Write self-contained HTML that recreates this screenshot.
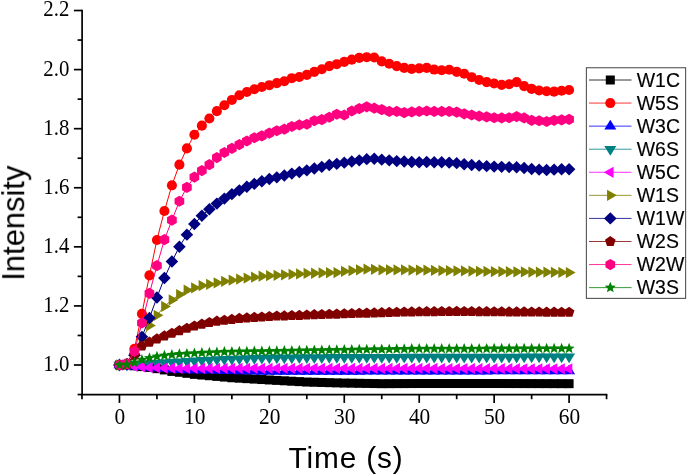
<!DOCTYPE html>
<html><head><meta charset="utf-8"><title>chart</title>
<style>
html,body{margin:0;padding:0;background:#fff;}
body{width:688px;height:476px;overflow:hidden;font-family:"Liberation Sans",sans-serif;}
svg{display:block;}
.tk{font-family:"Liberation Serif",serif;font-size:22.5px;fill:#000;}
.ti{font-family:"Liberation Sans",sans-serif;font-size:29.8px;fill:#000;}
.lg{font-family:"Liberation Sans",sans-serif;font-size:20.4px;fill:#000;stroke:#000;stroke-width:0.15px;}
</style></head><body>
<svg width="688" height="476" viewBox="0 0 688 476">
<rect width="688" height="476" fill="#fff"/>
<defs>
<g id="m_sq" fill="#000000"><rect x="-4.5" y="-4.5" width="9" height="9"/></g>
<g id="m_ci" fill="#FF0000"><circle r="5.05"/></g>
<g id="m_up" fill="#0000FF"><polygon points="0,-6.5 6,3.25 -6,3.25"/></g>
<g id="m_dn" fill="#008080"><polygon points="0,6.5 6,-3.25 -6,-3.25"/></g>
<g id="m_lt" fill="#FF00FF"><polygon points="-6.5,0 3.25,-5.63 3.25,5.63"/></g>
<g id="m_rt" fill="#808000"><polygon points="6.5,0 -3.25,-5.63 -3.25,5.63"/></g>
<g id="m_di" fill="#000080"><polygon points="0,-6.2 6.3,0 0,6.2 -6.3,0"/></g>
<g id="m_pe" fill="#800000"><polygon points="0,-5.6 5.33,-1.73 3.29,4.53 -3.29,4.53 -5.33,-1.73"/></g>
<g id="m_he" fill="#FF0080"><polygon points="0,-5.6 4.85,-2.8 4.85,2.8 0,5.6 -4.85,2.8 -4.85,-2.8"/></g>
<g id="m_st" fill="#008000"><polygon points="0,-5.8 1.5,-2.06 5.52,-1.79 2.43,0.79 3.41,4.69 0,2.55 -3.41,4.69 -2.43,0.79 -5.52,-1.79 -1.5,-2.06"/></g>
</defs>
<g>
<polyline fill="none" stroke="#000000" stroke-width="1" points="119.45,365 126.94,365 134.44,365.8 141.93,366.61 149.43,367.42 156.92,368.68 164.41,369.93 171.91,371.41 179.4,372.29 186.9,373.33 194.39,374.36 201.88,375.04 209.38,375.72 216.87,376.4 224.37,377.08 231.86,377.76 239.35,378.2 246.85,378.65 254.34,379.09 261.84,379.53 269.33,379.97 276.82,380.39 284.32,380.8 291.81,381.22 299.31,381.63 306.8,382.04 314.29,382.25 321.79,382.46 329.28,382.66 336.78,382.87 344.27,383.08 351.76,383.19 359.26,383.31 366.75,383.43 374.25,383.55 381.74,383.67 389.23,383.64 396.73,383.61 404.22,383.58 411.72,383.55 419.21,383.52 426.7,383.52 434.2,383.52 441.69,383.52 449.19,383.52 456.68,383.52 464.17,383.52 471.67,383.52 479.16,383.52 486.66,383.52 494.15,383.52 501.64,383.53 509.14,383.55 516.63,383.56 524.13,383.58 531.62,383.59 539.11,383.61 546.61,383.62 554.1,383.64 561.6,383.65 569.09,383.67"/>
<use href="#m_sq" x="119.45" y="365"/>
<use href="#m_sq" x="126.94" y="365"/>
<use href="#m_sq" x="134.44" y="365.8"/>
<use href="#m_sq" x="141.93" y="366.61"/>
<use href="#m_sq" x="149.43" y="367.42"/>
<use href="#m_sq" x="156.92" y="368.68"/>
<use href="#m_sq" x="164.41" y="369.93"/>
<use href="#m_sq" x="171.91" y="371.41"/>
<use href="#m_sq" x="179.4" y="372.29"/>
<use href="#m_sq" x="186.9" y="373.33"/>
<use href="#m_sq" x="194.39" y="374.36"/>
<use href="#m_sq" x="201.88" y="375.04"/>
<use href="#m_sq" x="209.38" y="375.72"/>
<use href="#m_sq" x="216.87" y="376.4"/>
<use href="#m_sq" x="224.37" y="377.08"/>
<use href="#m_sq" x="231.86" y="377.76"/>
<use href="#m_sq" x="239.35" y="378.2"/>
<use href="#m_sq" x="246.85" y="378.65"/>
<use href="#m_sq" x="254.34" y="379.09"/>
<use href="#m_sq" x="261.84" y="379.53"/>
<use href="#m_sq" x="269.33" y="379.97"/>
<use href="#m_sq" x="276.82" y="380.39"/>
<use href="#m_sq" x="284.32" y="380.8"/>
<use href="#m_sq" x="291.81" y="381.22"/>
<use href="#m_sq" x="299.31" y="381.63"/>
<use href="#m_sq" x="306.8" y="382.04"/>
<use href="#m_sq" x="314.29" y="382.25"/>
<use href="#m_sq" x="321.79" y="382.46"/>
<use href="#m_sq" x="329.28" y="382.66"/>
<use href="#m_sq" x="336.78" y="382.87"/>
<use href="#m_sq" x="344.27" y="383.08"/>
<use href="#m_sq" x="351.76" y="383.19"/>
<use href="#m_sq" x="359.26" y="383.31"/>
<use href="#m_sq" x="366.75" y="383.43"/>
<use href="#m_sq" x="374.25" y="383.55"/>
<use href="#m_sq" x="381.74" y="383.67"/>
<use href="#m_sq" x="389.23" y="383.64"/>
<use href="#m_sq" x="396.73" y="383.61"/>
<use href="#m_sq" x="404.22" y="383.58"/>
<use href="#m_sq" x="411.72" y="383.55"/>
<use href="#m_sq" x="419.21" y="383.52"/>
<use href="#m_sq" x="426.7" y="383.52"/>
<use href="#m_sq" x="434.2" y="383.52"/>
<use href="#m_sq" x="441.69" y="383.52"/>
<use href="#m_sq" x="449.19" y="383.52"/>
<use href="#m_sq" x="456.68" y="383.52"/>
<use href="#m_sq" x="464.17" y="383.52"/>
<use href="#m_sq" x="471.67" y="383.52"/>
<use href="#m_sq" x="479.16" y="383.52"/>
<use href="#m_sq" x="486.66" y="383.52"/>
<use href="#m_sq" x="494.15" y="383.52"/>
<use href="#m_sq" x="501.64" y="383.53"/>
<use href="#m_sq" x="509.14" y="383.55"/>
<use href="#m_sq" x="516.63" y="383.56"/>
<use href="#m_sq" x="524.13" y="383.58"/>
<use href="#m_sq" x="531.62" y="383.59"/>
<use href="#m_sq" x="539.11" y="383.61"/>
<use href="#m_sq" x="546.61" y="383.62"/>
<use href="#m_sq" x="554.1" y="383.64"/>
<use href="#m_sq" x="561.6" y="383.65"/>
<use href="#m_sq" x="569.09" y="383.67"/>
</g>
<g>
<polyline fill="none" stroke="#FF0000" stroke-width="1" points="119.45,365 126.94,363.52 134.44,348.78 141.93,313.81 149.43,275.4 156.92,239.95 164.41,211.01 171.91,185.31 179.4,164.63 186.9,148.38 194.39,134.79 201.88,125.64 209.38,118.55 216.87,111.16 224.37,105.25 231.86,99.94 239.35,95.21 246.85,91.96 254.34,89.3 261.84,87.03 269.33,85.19 276.82,83.1 284.32,81.21 291.81,78.19 299.31,77.01 306.8,74.92 314.29,71.87 321.79,69.3 329.28,66.08 336.78,64.19 344.27,61.89 351.76,59.58 359.26,57.9 366.75,57.19 374.25,57.49 381.74,61.39 389.23,63.78 396.73,66.08 404.22,67.88 411.72,68.92 419.21,68.33 426.7,67.88 434.2,69.57 441.69,70.28 449.19,69.8 456.68,71.87 464.17,73.79 471.67,77.19 479.16,80 486.66,82.09 494.15,83.51 501.64,84.87 509.14,84.22 516.63,82.09 524.13,86.11 531.62,88.92 539.11,90.48 546.61,91.22 554.1,91.66 561.6,90.72 569.09,90.01"/>
<use href="#m_ci" x="119.45" y="365"/>
<use href="#m_ci" x="126.94" y="363.52"/>
<use href="#m_ci" x="134.44" y="348.78"/>
<use href="#m_ci" x="141.93" y="313.81"/>
<use href="#m_ci" x="149.43" y="275.4"/>
<use href="#m_ci" x="156.92" y="239.95"/>
<use href="#m_ci" x="164.41" y="211.01"/>
<use href="#m_ci" x="171.91" y="185.31"/>
<use href="#m_ci" x="179.4" y="164.63"/>
<use href="#m_ci" x="186.9" y="148.38"/>
<use href="#m_ci" x="194.39" y="134.79"/>
<use href="#m_ci" x="201.88" y="125.64"/>
<use href="#m_ci" x="209.38" y="118.55"/>
<use href="#m_ci" x="216.87" y="111.16"/>
<use href="#m_ci" x="224.37" y="105.25"/>
<use href="#m_ci" x="231.86" y="99.94"/>
<use href="#m_ci" x="239.35" y="95.21"/>
<use href="#m_ci" x="246.85" y="91.96"/>
<use href="#m_ci" x="254.34" y="89.3"/>
<use href="#m_ci" x="261.84" y="87.03"/>
<use href="#m_ci" x="269.33" y="85.19"/>
<use href="#m_ci" x="276.82" y="83.1"/>
<use href="#m_ci" x="284.32" y="81.21"/>
<use href="#m_ci" x="291.81" y="78.19"/>
<use href="#m_ci" x="299.31" y="77.01"/>
<use href="#m_ci" x="306.8" y="74.92"/>
<use href="#m_ci" x="314.29" y="71.87"/>
<use href="#m_ci" x="321.79" y="69.3"/>
<use href="#m_ci" x="329.28" y="66.08"/>
<use href="#m_ci" x="336.78" y="64.19"/>
<use href="#m_ci" x="344.27" y="61.89"/>
<use href="#m_ci" x="351.76" y="59.58"/>
<use href="#m_ci" x="359.26" y="57.9"/>
<use href="#m_ci" x="366.75" y="57.19"/>
<use href="#m_ci" x="374.25" y="57.49"/>
<use href="#m_ci" x="381.74" y="61.39"/>
<use href="#m_ci" x="389.23" y="63.78"/>
<use href="#m_ci" x="396.73" y="66.08"/>
<use href="#m_ci" x="404.22" y="67.88"/>
<use href="#m_ci" x="411.72" y="68.92"/>
<use href="#m_ci" x="419.21" y="68.33"/>
<use href="#m_ci" x="426.7" y="67.88"/>
<use href="#m_ci" x="434.2" y="69.57"/>
<use href="#m_ci" x="441.69" y="70.28"/>
<use href="#m_ci" x="449.19" y="69.8"/>
<use href="#m_ci" x="456.68" y="71.87"/>
<use href="#m_ci" x="464.17" y="73.79"/>
<use href="#m_ci" x="471.67" y="77.19"/>
<use href="#m_ci" x="479.16" y="80"/>
<use href="#m_ci" x="486.66" y="82.09"/>
<use href="#m_ci" x="494.15" y="83.51"/>
<use href="#m_ci" x="501.64" y="84.87"/>
<use href="#m_ci" x="509.14" y="84.22"/>
<use href="#m_ci" x="516.63" y="82.09"/>
<use href="#m_ci" x="524.13" y="86.11"/>
<use href="#m_ci" x="531.62" y="88.92"/>
<use href="#m_ci" x="539.11" y="90.48"/>
<use href="#m_ci" x="546.61" y="91.22"/>
<use href="#m_ci" x="554.1" y="91.66"/>
<use href="#m_ci" x="561.6" y="90.72"/>
<use href="#m_ci" x="569.09" y="90.01"/>
</g>
<g>
<polyline fill="none" stroke="#0000FF" stroke-width="1" points="119.45,365 126.94,365 134.44,366.14 141.93,366.78 149.43,367.42 156.92,368.01 164.41,368.6 171.91,369.19 179.4,369.78 186.9,369.93 194.39,370.08 201.88,370.23 209.38,370.37 216.87,370.52 224.37,370.67 231.86,370.82 239.35,370.96 246.85,371.11 254.34,371.26 261.84,371.41 269.33,371.56 276.82,371.54 284.32,371.53 291.81,371.51 299.31,371.5 306.8,371.48 314.29,371.47 321.79,371.45 329.28,371.44 336.78,371.42 344.27,371.41 351.76,371.39 359.26,371.38 366.75,371.36 374.25,371.35 381.74,371.33 389.23,371.32 396.73,371.3 404.22,371.29 411.72,371.28 419.21,371.26 426.7,371.25 434.2,371.23 441.69,371.22 449.19,371.2 456.68,371.19 464.17,371.17 471.67,371.16 479.16,371.14 486.66,371.13 494.15,371.11 501.64,371.1 509.14,371.08 516.63,371.07 524.13,371.05 531.62,371.04 539.11,371.02 546.61,371.01 554.1,370.99 561.6,370.98 569.09,370.96"/>
<use href="#m_up" x="119.45" y="365"/>
<use href="#m_up" x="126.94" y="365"/>
<use href="#m_up" x="134.44" y="366.14"/>
<use href="#m_up" x="141.93" y="366.78"/>
<use href="#m_up" x="149.43" y="367.42"/>
<use href="#m_up" x="156.92" y="368.01"/>
<use href="#m_up" x="164.41" y="368.6"/>
<use href="#m_up" x="171.91" y="369.19"/>
<use href="#m_up" x="179.4" y="369.78"/>
<use href="#m_up" x="186.9" y="369.93"/>
<use href="#m_up" x="194.39" y="370.08"/>
<use href="#m_up" x="201.88" y="370.23"/>
<use href="#m_up" x="209.38" y="370.37"/>
<use href="#m_up" x="216.87" y="370.52"/>
<use href="#m_up" x="224.37" y="370.67"/>
<use href="#m_up" x="231.86" y="370.82"/>
<use href="#m_up" x="239.35" y="370.96"/>
<use href="#m_up" x="246.85" y="371.11"/>
<use href="#m_up" x="254.34" y="371.26"/>
<use href="#m_up" x="261.84" y="371.41"/>
<use href="#m_up" x="269.33" y="371.56"/>
<use href="#m_up" x="276.82" y="371.54"/>
<use href="#m_up" x="284.32" y="371.53"/>
<use href="#m_up" x="291.81" y="371.51"/>
<use href="#m_up" x="299.31" y="371.5"/>
<use href="#m_up" x="306.8" y="371.48"/>
<use href="#m_up" x="314.29" y="371.47"/>
<use href="#m_up" x="321.79" y="371.45"/>
<use href="#m_up" x="329.28" y="371.44"/>
<use href="#m_up" x="336.78" y="371.42"/>
<use href="#m_up" x="344.27" y="371.41"/>
<use href="#m_up" x="351.76" y="371.39"/>
<use href="#m_up" x="359.26" y="371.38"/>
<use href="#m_up" x="366.75" y="371.36"/>
<use href="#m_up" x="374.25" y="371.35"/>
<use href="#m_up" x="381.74" y="371.33"/>
<use href="#m_up" x="389.23" y="371.32"/>
<use href="#m_up" x="396.73" y="371.3"/>
<use href="#m_up" x="404.22" y="371.29"/>
<use href="#m_up" x="411.72" y="371.28"/>
<use href="#m_up" x="419.21" y="371.26"/>
<use href="#m_up" x="426.7" y="371.25"/>
<use href="#m_up" x="434.2" y="371.23"/>
<use href="#m_up" x="441.69" y="371.22"/>
<use href="#m_up" x="449.19" y="371.2"/>
<use href="#m_up" x="456.68" y="371.19"/>
<use href="#m_up" x="464.17" y="371.17"/>
<use href="#m_up" x="471.67" y="371.16"/>
<use href="#m_up" x="479.16" y="371.14"/>
<use href="#m_up" x="486.66" y="371.13"/>
<use href="#m_up" x="494.15" y="371.11"/>
<use href="#m_up" x="501.64" y="371.1"/>
<use href="#m_up" x="509.14" y="371.08"/>
<use href="#m_up" x="516.63" y="371.07"/>
<use href="#m_up" x="524.13" y="371.05"/>
<use href="#m_up" x="531.62" y="371.04"/>
<use href="#m_up" x="539.11" y="371.02"/>
<use href="#m_up" x="546.61" y="371.01"/>
<use href="#m_up" x="554.1" y="370.99"/>
<use href="#m_up" x="561.6" y="370.98"/>
<use href="#m_up" x="569.09" y="370.96"/>
</g>
<g>
<polyline fill="none" stroke="#008080" stroke-width="1" points="119.45,365 126.94,365 134.44,364.61 141.93,364.02 149.43,363.43 156.92,362.99 164.41,362.55 171.91,362.1 179.4,361.66 186.9,361.22 194.39,360.77 201.88,360.33 209.38,359.89 216.87,359.59 224.37,359.3 231.86,359 239.35,358.71 246.85,358.48 254.34,358.26 261.84,358.04 269.33,357.82 276.82,357.76 284.32,357.7 291.81,357.64 299.31,357.58 306.8,357.52 314.29,357.47 321.79,357.41 329.28,357.35 336.78,357.29 344.27,357.23 351.76,357.21 359.26,357.2 366.75,357.18 374.25,357.17 381.74,357.15 389.23,357.14 396.73,357.13 404.22,357.11 411.72,357.1 419.21,357.08 426.7,357.07 434.2,357.05 441.69,357.04 449.19,357.02 456.68,357.01 464.17,356.99 471.67,356.98 479.16,356.96 486.66,356.95 494.15,356.93 501.64,356.92 509.14,356.9 516.63,356.89 524.13,356.87 531.62,356.86 539.11,356.84 546.61,356.83 554.1,356.82 561.6,356.8 569.09,356.79"/>
<use href="#m_dn" x="119.45" y="365"/>
<use href="#m_dn" x="126.94" y="365"/>
<use href="#m_dn" x="134.44" y="364.61"/>
<use href="#m_dn" x="141.93" y="364.02"/>
<use href="#m_dn" x="149.43" y="363.43"/>
<use href="#m_dn" x="156.92" y="362.99"/>
<use href="#m_dn" x="164.41" y="362.55"/>
<use href="#m_dn" x="171.91" y="362.1"/>
<use href="#m_dn" x="179.4" y="361.66"/>
<use href="#m_dn" x="186.9" y="361.22"/>
<use href="#m_dn" x="194.39" y="360.77"/>
<use href="#m_dn" x="201.88" y="360.33"/>
<use href="#m_dn" x="209.38" y="359.89"/>
<use href="#m_dn" x="216.87" y="359.59"/>
<use href="#m_dn" x="224.37" y="359.3"/>
<use href="#m_dn" x="231.86" y="359"/>
<use href="#m_dn" x="239.35" y="358.71"/>
<use href="#m_dn" x="246.85" y="358.48"/>
<use href="#m_dn" x="254.34" y="358.26"/>
<use href="#m_dn" x="261.84" y="358.04"/>
<use href="#m_dn" x="269.33" y="357.82"/>
<use href="#m_dn" x="276.82" y="357.76"/>
<use href="#m_dn" x="284.32" y="357.7"/>
<use href="#m_dn" x="291.81" y="357.64"/>
<use href="#m_dn" x="299.31" y="357.58"/>
<use href="#m_dn" x="306.8" y="357.52"/>
<use href="#m_dn" x="314.29" y="357.47"/>
<use href="#m_dn" x="321.79" y="357.41"/>
<use href="#m_dn" x="329.28" y="357.35"/>
<use href="#m_dn" x="336.78" y="357.29"/>
<use href="#m_dn" x="344.27" y="357.23"/>
<use href="#m_dn" x="351.76" y="357.21"/>
<use href="#m_dn" x="359.26" y="357.2"/>
<use href="#m_dn" x="366.75" y="357.18"/>
<use href="#m_dn" x="374.25" y="357.17"/>
<use href="#m_dn" x="381.74" y="357.15"/>
<use href="#m_dn" x="389.23" y="357.14"/>
<use href="#m_dn" x="396.73" y="357.13"/>
<use href="#m_dn" x="404.22" y="357.11"/>
<use href="#m_dn" x="411.72" y="357.1"/>
<use href="#m_dn" x="419.21" y="357.08"/>
<use href="#m_dn" x="426.7" y="357.07"/>
<use href="#m_dn" x="434.2" y="357.05"/>
<use href="#m_dn" x="441.69" y="357.04"/>
<use href="#m_dn" x="449.19" y="357.02"/>
<use href="#m_dn" x="456.68" y="357.01"/>
<use href="#m_dn" x="464.17" y="356.99"/>
<use href="#m_dn" x="471.67" y="356.98"/>
<use href="#m_dn" x="479.16" y="356.96"/>
<use href="#m_dn" x="486.66" y="356.95"/>
<use href="#m_dn" x="494.15" y="356.93"/>
<use href="#m_dn" x="501.64" y="356.92"/>
<use href="#m_dn" x="509.14" y="356.9"/>
<use href="#m_dn" x="516.63" y="356.89"/>
<use href="#m_dn" x="524.13" y="356.87"/>
<use href="#m_dn" x="531.62" y="356.86"/>
<use href="#m_dn" x="539.11" y="356.84"/>
<use href="#m_dn" x="546.61" y="356.83"/>
<use href="#m_dn" x="554.1" y="356.82"/>
<use href="#m_dn" x="561.6" y="356.8"/>
<use href="#m_dn" x="569.09" y="356.79"/>
</g>
<g>
<polyline fill="none" stroke="#FF00FF" stroke-width="1" points="119.45,365 126.94,365 134.44,366.39 141.93,366.98 149.43,367.57 156.92,367.79 164.41,368.01 171.91,368.23 179.4,368.45 186.9,368.44 194.39,368.43 201.88,368.42 209.38,368.4 216.87,368.39 224.37,368.38 231.86,368.37 239.35,368.36 246.85,368.34 254.34,368.33 261.84,368.32 269.33,368.31 276.82,368.31 284.32,368.32 291.81,368.33 299.31,368.34 306.8,368.34 314.29,368.35 321.79,368.36 329.28,368.37 336.78,368.37 344.27,368.38 351.76,368.39 359.26,368.39 366.75,368.4 374.25,368.41 381.74,368.42 389.23,368.42 396.73,368.43 404.22,368.44 411.72,368.45 419.21,368.45 426.7,368.48 434.2,368.5 441.69,368.52 449.19,368.54 456.68,368.56 464.17,368.59 471.67,368.61 479.16,368.63 486.66,368.65 494.15,368.68 501.64,368.7 509.14,368.72 516.63,368.74 524.13,368.76 531.62,368.79 539.11,368.81 546.61,368.83 554.1,368.85 561.6,368.87 569.09,368.9"/>
<use href="#m_lt" x="119.45" y="365"/>
<use href="#m_lt" x="126.94" y="365"/>
<use href="#m_lt" x="134.44" y="366.39"/>
<use href="#m_lt" x="141.93" y="366.98"/>
<use href="#m_lt" x="149.43" y="367.57"/>
<use href="#m_lt" x="156.92" y="367.79"/>
<use href="#m_lt" x="164.41" y="368.01"/>
<use href="#m_lt" x="171.91" y="368.23"/>
<use href="#m_lt" x="179.4" y="368.45"/>
<use href="#m_lt" x="186.9" y="368.44"/>
<use href="#m_lt" x="194.39" y="368.43"/>
<use href="#m_lt" x="201.88" y="368.42"/>
<use href="#m_lt" x="209.38" y="368.4"/>
<use href="#m_lt" x="216.87" y="368.39"/>
<use href="#m_lt" x="224.37" y="368.38"/>
<use href="#m_lt" x="231.86" y="368.37"/>
<use href="#m_lt" x="239.35" y="368.36"/>
<use href="#m_lt" x="246.85" y="368.34"/>
<use href="#m_lt" x="254.34" y="368.33"/>
<use href="#m_lt" x="261.84" y="368.32"/>
<use href="#m_lt" x="269.33" y="368.31"/>
<use href="#m_lt" x="276.82" y="368.31"/>
<use href="#m_lt" x="284.32" y="368.32"/>
<use href="#m_lt" x="291.81" y="368.33"/>
<use href="#m_lt" x="299.31" y="368.34"/>
<use href="#m_lt" x="306.8" y="368.34"/>
<use href="#m_lt" x="314.29" y="368.35"/>
<use href="#m_lt" x="321.79" y="368.36"/>
<use href="#m_lt" x="329.28" y="368.37"/>
<use href="#m_lt" x="336.78" y="368.37"/>
<use href="#m_lt" x="344.27" y="368.38"/>
<use href="#m_lt" x="351.76" y="368.39"/>
<use href="#m_lt" x="359.26" y="368.39"/>
<use href="#m_lt" x="366.75" y="368.4"/>
<use href="#m_lt" x="374.25" y="368.41"/>
<use href="#m_lt" x="381.74" y="368.42"/>
<use href="#m_lt" x="389.23" y="368.42"/>
<use href="#m_lt" x="396.73" y="368.43"/>
<use href="#m_lt" x="404.22" y="368.44"/>
<use href="#m_lt" x="411.72" y="368.45"/>
<use href="#m_lt" x="419.21" y="368.45"/>
<use href="#m_lt" x="426.7" y="368.48"/>
<use href="#m_lt" x="434.2" y="368.5"/>
<use href="#m_lt" x="441.69" y="368.52"/>
<use href="#m_lt" x="449.19" y="368.54"/>
<use href="#m_lt" x="456.68" y="368.56"/>
<use href="#m_lt" x="464.17" y="368.59"/>
<use href="#m_lt" x="471.67" y="368.61"/>
<use href="#m_lt" x="479.16" y="368.63"/>
<use href="#m_lt" x="486.66" y="368.65"/>
<use href="#m_lt" x="494.15" y="368.68"/>
<use href="#m_lt" x="501.64" y="368.7"/>
<use href="#m_lt" x="509.14" y="368.72"/>
<use href="#m_lt" x="516.63" y="368.74"/>
<use href="#m_lt" x="524.13" y="368.76"/>
<use href="#m_lt" x="531.62" y="368.79"/>
<use href="#m_lt" x="539.11" y="368.81"/>
<use href="#m_lt" x="546.61" y="368.83"/>
<use href="#m_lt" x="554.1" y="368.85"/>
<use href="#m_lt" x="561.6" y="368.87"/>
<use href="#m_lt" x="569.09" y="368.9"/>
</g>
<g>
<polyline fill="none" stroke="#808000" stroke-width="1" points="119.45,365 126.94,364.11 134.44,355.16 141.93,339.8 149.43,325.62 156.92,315.28 164.41,306.42 171.91,299.92 179.4,294.6 186.9,290.14 194.39,287.84 201.88,285.54 209.38,284.35 216.87,282.79 224.37,281.31 231.86,280.13 239.35,279.04 246.85,278.06 254.34,277.18 261.84,276.23 269.33,275.7 276.82,275.34 284.32,274.81 291.81,274.34 299.31,273.93 306.8,273.42 314.29,273.25 321.79,272.95 329.28,272.74 336.78,272.54 344.27,271.27 351.76,270.68 359.26,269.79 366.75,269.2 374.25,269.35 381.74,269.79 389.23,269.85 396.73,269.91 404.22,269.97 411.72,270.03 419.21,270.09 426.7,270.23 434.2,270.38 441.69,270.53 449.19,270.68 456.68,270.82 464.17,270.97 471.67,271.12 479.16,271.27 486.66,271.42 494.15,271.56 501.64,271.66 509.14,271.75 516.63,271.85 524.13,271.94 531.62,272.04 539.11,272.13 546.61,272.22 554.1,272.32 561.6,272.41 569.09,272.51"/>
<use href="#m_rt" x="119.45" y="365"/>
<use href="#m_rt" x="126.94" y="364.11"/>
<use href="#m_rt" x="134.44" y="355.16"/>
<use href="#m_rt" x="141.93" y="339.8"/>
<use href="#m_rt" x="149.43" y="325.62"/>
<use href="#m_rt" x="156.92" y="315.28"/>
<use href="#m_rt" x="164.41" y="306.42"/>
<use href="#m_rt" x="171.91" y="299.92"/>
<use href="#m_rt" x="179.4" y="294.6"/>
<use href="#m_rt" x="186.9" y="290.14"/>
<use href="#m_rt" x="194.39" y="287.84"/>
<use href="#m_rt" x="201.88" y="285.54"/>
<use href="#m_rt" x="209.38" y="284.35"/>
<use href="#m_rt" x="216.87" y="282.79"/>
<use href="#m_rt" x="224.37" y="281.31"/>
<use href="#m_rt" x="231.86" y="280.13"/>
<use href="#m_rt" x="239.35" y="279.04"/>
<use href="#m_rt" x="246.85" y="278.06"/>
<use href="#m_rt" x="254.34" y="277.18"/>
<use href="#m_rt" x="261.84" y="276.23"/>
<use href="#m_rt" x="269.33" y="275.7"/>
<use href="#m_rt" x="276.82" y="275.34"/>
<use href="#m_rt" x="284.32" y="274.81"/>
<use href="#m_rt" x="291.81" y="274.34"/>
<use href="#m_rt" x="299.31" y="273.93"/>
<use href="#m_rt" x="306.8" y="273.42"/>
<use href="#m_rt" x="314.29" y="273.25"/>
<use href="#m_rt" x="321.79" y="272.95"/>
<use href="#m_rt" x="329.28" y="272.74"/>
<use href="#m_rt" x="336.78" y="272.54"/>
<use href="#m_rt" x="344.27" y="271.27"/>
<use href="#m_rt" x="351.76" y="270.68"/>
<use href="#m_rt" x="359.26" y="269.79"/>
<use href="#m_rt" x="366.75" y="269.2"/>
<use href="#m_rt" x="374.25" y="269.35"/>
<use href="#m_rt" x="381.74" y="269.79"/>
<use href="#m_rt" x="389.23" y="269.85"/>
<use href="#m_rt" x="396.73" y="269.91"/>
<use href="#m_rt" x="404.22" y="269.97"/>
<use href="#m_rt" x="411.72" y="270.03"/>
<use href="#m_rt" x="419.21" y="270.09"/>
<use href="#m_rt" x="426.7" y="270.23"/>
<use href="#m_rt" x="434.2" y="270.38"/>
<use href="#m_rt" x="441.69" y="270.53"/>
<use href="#m_rt" x="449.19" y="270.68"/>
<use href="#m_rt" x="456.68" y="270.82"/>
<use href="#m_rt" x="464.17" y="270.97"/>
<use href="#m_rt" x="471.67" y="271.12"/>
<use href="#m_rt" x="479.16" y="271.27"/>
<use href="#m_rt" x="486.66" y="271.42"/>
<use href="#m_rt" x="494.15" y="271.56"/>
<use href="#m_rt" x="501.64" y="271.66"/>
<use href="#m_rt" x="509.14" y="271.75"/>
<use href="#m_rt" x="516.63" y="271.85"/>
<use href="#m_rt" x="524.13" y="271.94"/>
<use href="#m_rt" x="531.62" y="272.04"/>
<use href="#m_rt" x="539.11" y="272.13"/>
<use href="#m_rt" x="546.61" y="272.22"/>
<use href="#m_rt" x="554.1" y="272.32"/>
<use href="#m_rt" x="561.6" y="272.41"/>
<use href="#m_rt" x="569.09" y="272.51"/>
</g>
<g>
<polyline fill="none" stroke="#000080" stroke-width="1" points="119.45,365 126.94,364.11 134.44,355.16 141.93,336.85 149.43,317.94 156.92,297.56 164.41,278.06 171.91,261.52 179.4,246.75 186.9,234.64 194.39,224 201.88,215.73 209.38,209.23 216.87,203.62 224.37,198.6 231.86,194.17 239.35,190.33 246.85,186.78 254.34,183.83 261.84,181.29 269.33,178.95 276.82,177.33 284.32,175.47 291.81,173.58 299.31,171.98 306.8,170.36 314.29,168.47 321.79,166.87 329.28,164.98 336.78,163.86 344.27,162.65 351.76,161.47 359.26,160.37 366.75,159.16 374.25,158.72 381.74,159.67 389.23,160.37 396.73,161.08 404.22,161.47 411.72,161.97 419.21,162.18 426.7,161.97 434.2,162.18 441.69,162.18 449.19,162.65 456.68,163.15 464.17,164.27 471.67,164.98 479.16,165.66 486.66,166.16 494.15,166.58 501.64,166.87 509.14,167.08 516.63,167.29 524.13,167.97 531.62,168.97 539.11,169.65 546.61,170.06 554.1,169.65 561.6,169.18 569.09,169.18"/>
<use href="#m_di" x="119.45" y="365"/>
<use href="#m_di" x="126.94" y="364.11"/>
<use href="#m_di" x="134.44" y="355.16"/>
<use href="#m_di" x="141.93" y="336.85"/>
<use href="#m_di" x="149.43" y="317.94"/>
<use href="#m_di" x="156.92" y="297.56"/>
<use href="#m_di" x="164.41" y="278.06"/>
<use href="#m_di" x="171.91" y="261.52"/>
<use href="#m_di" x="179.4" y="246.75"/>
<use href="#m_di" x="186.9" y="234.64"/>
<use href="#m_di" x="194.39" y="224"/>
<use href="#m_di" x="201.88" y="215.73"/>
<use href="#m_di" x="209.38" y="209.23"/>
<use href="#m_di" x="216.87" y="203.62"/>
<use href="#m_di" x="224.37" y="198.6"/>
<use href="#m_di" x="231.86" y="194.17"/>
<use href="#m_di" x="239.35" y="190.33"/>
<use href="#m_di" x="246.85" y="186.78"/>
<use href="#m_di" x="254.34" y="183.83"/>
<use href="#m_di" x="261.84" y="181.29"/>
<use href="#m_di" x="269.33" y="178.95"/>
<use href="#m_di" x="276.82" y="177.33"/>
<use href="#m_di" x="284.32" y="175.47"/>
<use href="#m_di" x="291.81" y="173.58"/>
<use href="#m_di" x="299.31" y="171.98"/>
<use href="#m_di" x="306.8" y="170.36"/>
<use href="#m_di" x="314.29" y="168.47"/>
<use href="#m_di" x="321.79" y="166.87"/>
<use href="#m_di" x="329.28" y="164.98"/>
<use href="#m_di" x="336.78" y="163.86"/>
<use href="#m_di" x="344.27" y="162.65"/>
<use href="#m_di" x="351.76" y="161.47"/>
<use href="#m_di" x="359.26" y="160.37"/>
<use href="#m_di" x="366.75" y="159.16"/>
<use href="#m_di" x="374.25" y="158.72"/>
<use href="#m_di" x="381.74" y="159.67"/>
<use href="#m_di" x="389.23" y="160.37"/>
<use href="#m_di" x="396.73" y="161.08"/>
<use href="#m_di" x="404.22" y="161.47"/>
<use href="#m_di" x="411.72" y="161.97"/>
<use href="#m_di" x="419.21" y="162.18"/>
<use href="#m_di" x="426.7" y="161.97"/>
<use href="#m_di" x="434.2" y="162.18"/>
<use href="#m_di" x="441.69" y="162.18"/>
<use href="#m_di" x="449.19" y="162.65"/>
<use href="#m_di" x="456.68" y="163.15"/>
<use href="#m_di" x="464.17" y="164.27"/>
<use href="#m_di" x="471.67" y="164.98"/>
<use href="#m_di" x="479.16" y="165.66"/>
<use href="#m_di" x="486.66" y="166.16"/>
<use href="#m_di" x="494.15" y="166.58"/>
<use href="#m_di" x="501.64" y="166.87"/>
<use href="#m_di" x="509.14" y="167.08"/>
<use href="#m_di" x="516.63" y="167.29"/>
<use href="#m_di" x="524.13" y="167.97"/>
<use href="#m_di" x="531.62" y="168.97"/>
<use href="#m_di" x="539.11" y="169.65"/>
<use href="#m_di" x="546.61" y="170.06"/>
<use href="#m_di" x="554.1" y="169.65"/>
<use href="#m_di" x="561.6" y="169.18"/>
<use href="#m_di" x="569.09" y="169.18"/>
</g>
<g>
<polyline fill="none" stroke="#800000" stroke-width="1" points="119.45,365 126.94,364.41 134.44,354.87 141.93,346 149.43,342.16 156.92,338.91 164.41,335.96 171.91,333.3 179.4,330.64 186.9,328.28 194.39,326.06 201.88,324.14 209.38,322.58 216.87,321.19 224.37,320.3 231.86,319.39 239.35,318.38 246.85,317.94 254.34,317.47 261.84,317 269.33,316.58 276.82,316.08 284.32,315.87 291.81,315.58 299.31,315.37 306.8,314.99 314.29,314.69 321.79,314.48 329.28,314.28 336.78,314.1 344.27,313.81 351.76,313.57 359.26,313.33 366.75,313.1 374.25,312.86 381.74,312.62 389.23,312.45 396.73,312.27 404.22,312.09 411.72,311.91 419.21,311.74 426.7,311.68 434.2,311.62 441.69,311.56 449.19,311.5 456.68,311.44 464.17,311.5 471.67,311.56 479.16,311.62 486.66,311.68 494.15,311.74 501.64,311.8 509.14,311.86 516.63,311.91 524.13,311.97 531.62,312.03 539.11,312.09 546.61,312.15 554.1,312.21 561.6,312.27 569.09,312.33"/>
<use href="#m_pe" x="119.45" y="365"/>
<use href="#m_pe" x="126.94" y="364.41"/>
<use href="#m_pe" x="134.44" y="354.87"/>
<use href="#m_pe" x="141.93" y="346"/>
<use href="#m_pe" x="149.43" y="342.16"/>
<use href="#m_pe" x="156.92" y="338.91"/>
<use href="#m_pe" x="164.41" y="335.96"/>
<use href="#m_pe" x="171.91" y="333.3"/>
<use href="#m_pe" x="179.4" y="330.64"/>
<use href="#m_pe" x="186.9" y="328.28"/>
<use href="#m_pe" x="194.39" y="326.06"/>
<use href="#m_pe" x="201.88" y="324.14"/>
<use href="#m_pe" x="209.38" y="322.58"/>
<use href="#m_pe" x="216.87" y="321.19"/>
<use href="#m_pe" x="224.37" y="320.3"/>
<use href="#m_pe" x="231.86" y="319.39"/>
<use href="#m_pe" x="239.35" y="318.38"/>
<use href="#m_pe" x="246.85" y="317.94"/>
<use href="#m_pe" x="254.34" y="317.47"/>
<use href="#m_pe" x="261.84" y="317"/>
<use href="#m_pe" x="269.33" y="316.58"/>
<use href="#m_pe" x="276.82" y="316.08"/>
<use href="#m_pe" x="284.32" y="315.87"/>
<use href="#m_pe" x="291.81" y="315.58"/>
<use href="#m_pe" x="299.31" y="315.37"/>
<use href="#m_pe" x="306.8" y="314.99"/>
<use href="#m_pe" x="314.29" y="314.69"/>
<use href="#m_pe" x="321.79" y="314.48"/>
<use href="#m_pe" x="329.28" y="314.28"/>
<use href="#m_pe" x="336.78" y="314.1"/>
<use href="#m_pe" x="344.27" y="313.81"/>
<use href="#m_pe" x="351.76" y="313.57"/>
<use href="#m_pe" x="359.26" y="313.33"/>
<use href="#m_pe" x="366.75" y="313.1"/>
<use href="#m_pe" x="374.25" y="312.86"/>
<use href="#m_pe" x="381.74" y="312.62"/>
<use href="#m_pe" x="389.23" y="312.45"/>
<use href="#m_pe" x="396.73" y="312.27"/>
<use href="#m_pe" x="404.22" y="312.09"/>
<use href="#m_pe" x="411.72" y="311.91"/>
<use href="#m_pe" x="419.21" y="311.74"/>
<use href="#m_pe" x="426.7" y="311.68"/>
<use href="#m_pe" x="434.2" y="311.62"/>
<use href="#m_pe" x="441.69" y="311.56"/>
<use href="#m_pe" x="449.19" y="311.5"/>
<use href="#m_pe" x="456.68" y="311.44"/>
<use href="#m_pe" x="464.17" y="311.5"/>
<use href="#m_pe" x="471.67" y="311.56"/>
<use href="#m_pe" x="479.16" y="311.62"/>
<use href="#m_pe" x="486.66" y="311.68"/>
<use href="#m_pe" x="494.15" y="311.74"/>
<use href="#m_pe" x="501.64" y="311.8"/>
<use href="#m_pe" x="509.14" y="311.86"/>
<use href="#m_pe" x="516.63" y="311.91"/>
<use href="#m_pe" x="524.13" y="311.97"/>
<use href="#m_pe" x="531.62" y="312.03"/>
<use href="#m_pe" x="539.11" y="312.09"/>
<use href="#m_pe" x="546.61" y="312.15"/>
<use href="#m_pe" x="554.1" y="312.21"/>
<use href="#m_pe" x="561.6" y="312.27"/>
<use href="#m_pe" x="569.09" y="312.33"/>
</g>
<g>
<polyline fill="none" stroke="#FF0080" stroke-width="1" points="119.45,365 126.94,363.82 134.44,351.32 141.93,322.96 149.43,293.42 156.92,265.65 164.41,239.66 171.91,220.16 179.4,201.26 186.9,187.37 194.39,177.03 201.88,170.54 209.38,164.63 216.87,157.54 224.37,152.52 231.86,148.38 239.35,144.54 246.85,141 254.34,137.75 261.84,135.86 269.33,133.14 276.82,130.75 284.32,129.18 291.81,126.52 299.31,124.93 306.8,124.25 314.29,120.73 321.79,119.64 329.28,117.25 336.78,114.23 344.27,115 351.76,111.01 359.26,108.62 366.75,106.82 374.25,108.21 381.74,109.62 389.23,111.46 396.73,111.46 404.22,112.64 411.72,111.93 419.21,111.46 426.7,111.01 434.2,111.46 441.69,111.46 449.19,111.46 456.68,112.14 464.17,113.82 471.67,115 479.16,116.12 486.66,116.83 494.15,117.75 501.64,117.95 509.14,117.75 516.63,116.54 524.13,117.95 531.62,120.32 539.11,120.73 546.61,121.5 554.1,120.32 561.6,119.85 569.09,119.34"/>
<use href="#m_he" x="119.45" y="365"/>
<use href="#m_he" x="126.94" y="363.82"/>
<use href="#m_he" x="134.44" y="351.32"/>
<use href="#m_he" x="141.93" y="322.96"/>
<use href="#m_he" x="149.43" y="293.42"/>
<use href="#m_he" x="156.92" y="265.65"/>
<use href="#m_he" x="164.41" y="239.66"/>
<use href="#m_he" x="171.91" y="220.16"/>
<use href="#m_he" x="179.4" y="201.26"/>
<use href="#m_he" x="186.9" y="187.37"/>
<use href="#m_he" x="194.39" y="177.03"/>
<use href="#m_he" x="201.88" y="170.54"/>
<use href="#m_he" x="209.38" y="164.63"/>
<use href="#m_he" x="216.87" y="157.54"/>
<use href="#m_he" x="224.37" y="152.52"/>
<use href="#m_he" x="231.86" y="148.38"/>
<use href="#m_he" x="239.35" y="144.54"/>
<use href="#m_he" x="246.85" y="141"/>
<use href="#m_he" x="254.34" y="137.75"/>
<use href="#m_he" x="261.84" y="135.86"/>
<use href="#m_he" x="269.33" y="133.14"/>
<use href="#m_he" x="276.82" y="130.75"/>
<use href="#m_he" x="284.32" y="129.18"/>
<use href="#m_he" x="291.81" y="126.52"/>
<use href="#m_he" x="299.31" y="124.93"/>
<use href="#m_he" x="306.8" y="124.25"/>
<use href="#m_he" x="314.29" y="120.73"/>
<use href="#m_he" x="321.79" y="119.64"/>
<use href="#m_he" x="329.28" y="117.25"/>
<use href="#m_he" x="336.78" y="114.23"/>
<use href="#m_he" x="344.27" y="115"/>
<use href="#m_he" x="351.76" y="111.01"/>
<use href="#m_he" x="359.26" y="108.62"/>
<use href="#m_he" x="366.75" y="106.82"/>
<use href="#m_he" x="374.25" y="108.21"/>
<use href="#m_he" x="381.74" y="109.62"/>
<use href="#m_he" x="389.23" y="111.46"/>
<use href="#m_he" x="396.73" y="111.46"/>
<use href="#m_he" x="404.22" y="112.64"/>
<use href="#m_he" x="411.72" y="111.93"/>
<use href="#m_he" x="419.21" y="111.46"/>
<use href="#m_he" x="426.7" y="111.01"/>
<use href="#m_he" x="434.2" y="111.46"/>
<use href="#m_he" x="441.69" y="111.46"/>
<use href="#m_he" x="449.19" y="111.46"/>
<use href="#m_he" x="456.68" y="112.14"/>
<use href="#m_he" x="464.17" y="113.82"/>
<use href="#m_he" x="471.67" y="115"/>
<use href="#m_he" x="479.16" y="116.12"/>
<use href="#m_he" x="486.66" y="116.83"/>
<use href="#m_he" x="494.15" y="117.75"/>
<use href="#m_he" x="501.64" y="117.95"/>
<use href="#m_he" x="509.14" y="117.75"/>
<use href="#m_he" x="516.63" y="116.54"/>
<use href="#m_he" x="524.13" y="117.95"/>
<use href="#m_he" x="531.62" y="120.32"/>
<use href="#m_he" x="539.11" y="120.73"/>
<use href="#m_he" x="546.61" y="121.5"/>
<use href="#m_he" x="554.1" y="120.32"/>
<use href="#m_he" x="561.6" y="119.85"/>
<use href="#m_he" x="569.09" y="119.34"/>
</g>
<g>
<polyline fill="none" stroke="#008000" stroke-width="1" points="119.45,365 126.94,364.5 134.44,362.63 141.93,359.77 149.43,358.03 156.92,356.49 164.41,355.46 171.91,354.72 179.4,354.13 186.9,353.68 194.39,353.24 201.88,352.87 209.38,352.5 216.87,352.21 224.37,351.91 231.86,351.76 239.35,351.62 246.85,351.51 254.34,351.39 261.84,351.28 269.33,351.17 276.82,351.04 284.32,350.91 291.81,350.77 299.31,350.64 306.8,350.51 314.29,350.38 321.79,350.24 329.28,350.11 336.78,349.98 344.27,349.84 351.76,349.74 359.26,349.64 366.75,349.53 374.25,349.43 381.74,349.33 389.23,349.22 396.73,349.12 404.22,349.02 411.72,348.91 419.21,348.81 426.7,348.8 434.2,348.78 441.69,348.77 449.19,348.75 456.68,348.74 464.17,348.72 471.67,348.71 479.16,348.69 486.66,348.68 494.15,348.66 501.64,348.65 509.14,348.63 516.63,348.62 524.13,348.6 531.62,348.59 539.11,348.57 546.61,348.56 554.1,348.54 561.6,348.53 569.09,348.51"/>
<use href="#m_st" x="119.45" y="365"/>
<use href="#m_st" x="126.94" y="364.5"/>
<use href="#m_st" x="134.44" y="362.63"/>
<use href="#m_st" x="141.93" y="359.77"/>
<use href="#m_st" x="149.43" y="358.03"/>
<use href="#m_st" x="156.92" y="356.49"/>
<use href="#m_st" x="164.41" y="355.46"/>
<use href="#m_st" x="171.91" y="354.72"/>
<use href="#m_st" x="179.4" y="354.13"/>
<use href="#m_st" x="186.9" y="353.68"/>
<use href="#m_st" x="194.39" y="353.24"/>
<use href="#m_st" x="201.88" y="352.87"/>
<use href="#m_st" x="209.38" y="352.5"/>
<use href="#m_st" x="216.87" y="352.21"/>
<use href="#m_st" x="224.37" y="351.91"/>
<use href="#m_st" x="231.86" y="351.76"/>
<use href="#m_st" x="239.35" y="351.62"/>
<use href="#m_st" x="246.85" y="351.51"/>
<use href="#m_st" x="254.34" y="351.39"/>
<use href="#m_st" x="261.84" y="351.28"/>
<use href="#m_st" x="269.33" y="351.17"/>
<use href="#m_st" x="276.82" y="351.04"/>
<use href="#m_st" x="284.32" y="350.91"/>
<use href="#m_st" x="291.81" y="350.77"/>
<use href="#m_st" x="299.31" y="350.64"/>
<use href="#m_st" x="306.8" y="350.51"/>
<use href="#m_st" x="314.29" y="350.38"/>
<use href="#m_st" x="321.79" y="350.24"/>
<use href="#m_st" x="329.28" y="350.11"/>
<use href="#m_st" x="336.78" y="349.98"/>
<use href="#m_st" x="344.27" y="349.84"/>
<use href="#m_st" x="351.76" y="349.74"/>
<use href="#m_st" x="359.26" y="349.64"/>
<use href="#m_st" x="366.75" y="349.53"/>
<use href="#m_st" x="374.25" y="349.43"/>
<use href="#m_st" x="381.74" y="349.33"/>
<use href="#m_st" x="389.23" y="349.22"/>
<use href="#m_st" x="396.73" y="349.12"/>
<use href="#m_st" x="404.22" y="349.02"/>
<use href="#m_st" x="411.72" y="348.91"/>
<use href="#m_st" x="419.21" y="348.81"/>
<use href="#m_st" x="426.7" y="348.8"/>
<use href="#m_st" x="434.2" y="348.78"/>
<use href="#m_st" x="441.69" y="348.77"/>
<use href="#m_st" x="449.19" y="348.75"/>
<use href="#m_st" x="456.68" y="348.74"/>
<use href="#m_st" x="464.17" y="348.72"/>
<use href="#m_st" x="471.67" y="348.71"/>
<use href="#m_st" x="479.16" y="348.69"/>
<use href="#m_st" x="486.66" y="348.68"/>
<use href="#m_st" x="494.15" y="348.66"/>
<use href="#m_st" x="501.64" y="348.65"/>
<use href="#m_st" x="509.14" y="348.63"/>
<use href="#m_st" x="516.63" y="348.62"/>
<use href="#m_st" x="524.13" y="348.6"/>
<use href="#m_st" x="531.62" y="348.59"/>
<use href="#m_st" x="539.11" y="348.57"/>
<use href="#m_st" x="546.61" y="348.56"/>
<use href="#m_st" x="554.1" y="348.54"/>
<use href="#m_st" x="561.6" y="348.53"/>
<use href="#m_st" x="569.09" y="348.51"/>
</g>
<g stroke="#000" stroke-width="1.7" fill="none" stroke-linecap="butt">
<path d="M82.1 9.72 V395.5"/>
<path d="M81.3 394.7 H607.36"/>
<path d="M73.9 365 H82.1"/>
<path d="M73.9 305.92 H82.1"/>
<path d="M73.9 246.84 H82.1"/>
<path d="M73.9 187.76 H82.1"/>
<path d="M73.9 128.68 H82.1"/>
<path d="M73.9 69.6 H82.1"/>
<path d="M73.9 10.52 H82.1"/>
<path d="M77.6 394.54 H82.1"/>
<path d="M77.6 335.46 H82.1"/>
<path d="M77.6 276.38 H82.1"/>
<path d="M77.6 217.3 H82.1"/>
<path d="M77.6 158.22 H82.1"/>
<path d="M77.6 99.14 H82.1"/>
<path d="M77.6 40.06 H82.1"/>
<path d="M119.45 394.7 V402.9"/>
<path d="M194.39 394.7 V402.9"/>
<path d="M269.33 394.7 V402.9"/>
<path d="M344.27 394.7 V402.9"/>
<path d="M419.21 394.7 V402.9"/>
<path d="M494.15 394.7 V402.9"/>
<path d="M569.09 394.7 V402.9"/>
<path d="M81.98 394.7 V399.2"/>
<path d="M156.92 394.7 V399.2"/>
<path d="M231.86 394.7 V399.2"/>
<path d="M306.8 394.7 V399.2"/>
<path d="M381.74 394.7 V399.2"/>
<path d="M456.68 394.7 V399.2"/>
<path d="M531.62 394.7 V399.2"/>
<path d="M606.56 394.7 V399.2"/>
</g>
<g style="will-change:transform">
<text class="tk" transform="translate(69.3 370.9) scale(0.925 1)" text-anchor="end">1.0</text>
<text class="tk" transform="translate(69.3 311.82) scale(0.925 1)" text-anchor="end">1.2</text>
<text class="tk" transform="translate(69.3 252.74) scale(0.925 1)" text-anchor="end">1.4</text>
<text class="tk" transform="translate(69.3 193.66) scale(0.925 1)" text-anchor="end">1.6</text>
<text class="tk" transform="translate(69.3 134.58) scale(0.925 1)" text-anchor="end">1.8</text>
<text class="tk" transform="translate(69.3 75.5) scale(0.925 1)" text-anchor="end">2.0</text>
<text class="tk" transform="translate(69.3 16.42) scale(0.925 1)" text-anchor="end">2.2</text>
<text class="tk" transform="translate(119.85 423.8) scale(0.95 1.01)" text-anchor="middle">0</text>
<text class="tk" transform="translate(194.79 423.8) scale(0.95 1.01)" text-anchor="middle">10</text>
<text class="tk" transform="translate(269.73 423.8) scale(0.95 1.01)" text-anchor="middle">20</text>
<text class="tk" transform="translate(344.67 423.8) scale(0.95 1.01)" text-anchor="middle">30</text>
<text class="tk" transform="translate(419.61 423.8) scale(0.95 1.01)" text-anchor="middle">40</text>
<text class="tk" transform="translate(494.55 423.8) scale(0.95 1.01)" text-anchor="middle">50</text>
<text class="tk" transform="translate(569.49 423.8) scale(0.95 1.01)" text-anchor="middle">60</text>
<text class="ti" x="288.6" y="467.5" letter-spacing="0.85">Time (s)</text>
<text class="ti" style="font-size:31.4px" transform="translate(24.2 280.7) rotate(-90) scale(0.985 1)">Intensity</text>
</g>
<rect x="586.3" y="67.8" width="99.4" height="230.5" fill="#fff" stroke="#222" stroke-width="0.85"/>
<path d="M589 80 H631.5" stroke="#000000" stroke-width="0.8" fill="none"/>
<use href="#m_sq" x="610.3" y="80"/>
<path d="M589 103.07 H631.5" stroke="#FF0000" stroke-width="0.8" fill="none"/>
<use href="#m_ci" x="610.3" y="103.07"/>
<path d="M589 126.14 H631.5" stroke="#0000FF" stroke-width="0.8" fill="none"/>
<use href="#m_up" x="610.3" y="126.14"/>
<path d="M589 149.21 H631.5" stroke="#008080" stroke-width="0.8" fill="none"/>
<use href="#m_dn" x="610.3" y="149.21"/>
<path d="M589 172.28 H631.5" stroke="#FF00FF" stroke-width="0.8" fill="none"/>
<use href="#m_lt" x="610.3" y="172.28"/>
<path d="M589 195.35 H631.5" stroke="#808000" stroke-width="0.8" fill="none"/>
<use href="#m_rt" x="610.3" y="195.35"/>
<path d="M589 218.42 H631.5" stroke="#000080" stroke-width="0.8" fill="none"/>
<use href="#m_di" x="610.3" y="218.42"/>
<path d="M589 241.49 H631.5" stroke="#800000" stroke-width="0.8" fill="none"/>
<use href="#m_pe" x="610.3" y="241.49"/>
<path d="M589 264.56 H631.5" stroke="#FF0080" stroke-width="0.8" fill="none"/>
<use href="#m_he" x="610.3" y="264.56"/>
<path d="M589 287.63 H631.5" stroke="#008000" stroke-width="0.8" fill="none"/>
<use href="#m_st" x="610.3" y="287.63"/>
<g style="will-change:transform"><text class="lg" transform="translate(636.7 86.75) scale(0.955 1)">W1C</text><text class="lg" transform="translate(636.7 109.82) scale(0.955 1)">W5S</text><text class="lg" transform="translate(636.7 132.89) scale(0.955 1)">W3C</text><text class="lg" transform="translate(636.7 155.96) scale(0.955 1)">W6S</text><text class="lg" transform="translate(636.7 179.03) scale(0.955 1)">W5C</text><text class="lg" transform="translate(636.7 202.1) scale(0.955 1)">W1S</text><text class="lg" transform="translate(636.7 225.17) scale(0.955 1)">W1W</text><text class="lg" transform="translate(636.7 248.24) scale(0.955 1)">W2S</text><text class="lg" transform="translate(636.7 271.31) scale(0.955 1)">W2W</text><text class="lg" transform="translate(636.7 294.38) scale(0.955 1)">W3S</text></g>
</svg></body></html>
